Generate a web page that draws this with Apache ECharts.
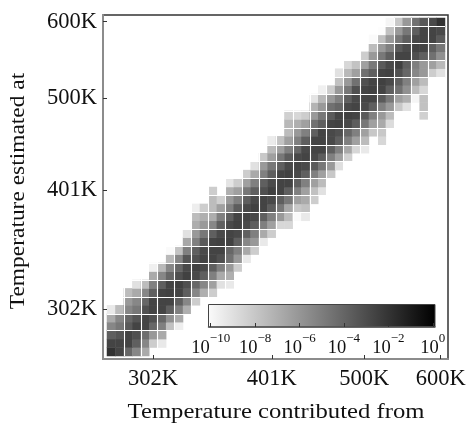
<!DOCTYPE html>
<html><head><meta charset="utf-8">
<style>html,body{margin:0;padding:0;background:#fff}#c{width:466px;height:423px}</style>
<script src="https://cdn.jsdelivr.net/npm/echarts@6/dist/echarts.min.js"></script>
</head><body><div id="c"></div>
<script>
const temperatureTicks = [302, 401, 500, 600];
const colorbarTicks = [-10, -8, -6, -4, -2, 0];
const xTitle = 'Temperature contributed from';
const yTitle = 'Temperature estimated at';
const binCount = 40;
const n = null;
// first occupied column of every row, bottom row first
const rowStart = [0,0,0,0,0,0,2,2,3,5,5,7,7,9,9,10,10,10,12,12,14,16,17,18,19,19,21,21,21,24,24,25,27,27,28,30,31,31,32,33];
// log10 of the estimate in every occupied cell
const rowLog10 = [
[-2.0,-2.7,-4.1,-5.4,-6.8],
[-2.7,-2.7,-2.7,-3.8,-5.4,-8.2,-9.3],
[-3.8,-3.4,-2.7,-3.2,-4.4,-6.1,-6.8],
[-5.4,-4.8,-3.6,-2.7,-2.7,-4.1,-5.1,-7.7,-9.5],
[-6.8,-5.4,-4.1,-3.4,-2.7,-3.2,-4.1,-5.8,-6.8],
[-9.3,-7.5,-5.4,-4.8,-3.2,-2.7,-2.7,-3.8,-5.1,-7.0],
[-6.1,-5.4,-4.1,-2.7,-2.7,-2.7,-3.8,-5.4,-8.2],
[-7.5,-6.8,-5.4,-3.8,-2.7,-2.6,-2.7,-3.8,-5.4,-7.0,-8.2],
[-9.0,-7.5,-5.1,-3.8,-2.7,-2.6,-3.2,-4.1,-5.4,-6.4,-9.0,-9.3],
[-6.8,-5.4,-4.1,-3.2,-2.6,-2.9,-3.8,-5.1,-6.8,-7.0],
[-9.6,-7.4,-5.4,-4.1,-2.9,-2.6,-2.9,-3.8,-5.1,-6.1,-8.2],
[-7.4,-5.4,-3.4,-3.2,-2.7,-2.7,-3.2,-4.5,-6.1,-9.3],
[-10.0,-7.8,-5.1,-3.8,-2.9,-2.7,-2.7,-4.1,-5.1,-6.7,-8.2],
[-6.7,-5.1,-3.6,-2.7,-2.6,-2.6,-3.8,-5.4,-6.1,-9.3],
[-9.0,-6.1,-4.8,-3.8,-2.9,-2.7,-2.9,-3.8,-5.1,-6.8,-8.2],
[-6.9,-6.1,-5.4,-3.8,-2.9,-2.6,-2.9,-3.8,-5.1,-6.4,-8.6,-8.6],
[-7.5,-7.0,-6.9,-5.1,-3.8,-2.7,-2.7,-2.9,-3.8,-5.1,-6.1,-7.5,-10.0,-9.3],
[-9.5,-8.2,-7.5,-6.4,-5.1,-3.7,-2.9,-2.6,-2.7,-3.7,-4.8,-6.7,-8.0,-7.7],
[-7.5,-8.3,-6.1,-5.1,-3.8,-2.9,-2.7,-2.9,-3.8,-4.8,-6.4,-6.8,-8.2],
[-8.2,n,-7.0,-6.4,-4.8,-3.8,-3.2,-2.6,-2.7,-3.8,-5.1,-6.4,-7.7,-9.0],
[-9.1,-8.2,-6.4,-5.1,-3.8,-3.0,-2.7,-2.7,-3.8,-5.1,-6.4,-7.5],
[-8.2,-6.8,-5.1,-3.8,-2.7,-2.6,-2.9,-3.8,-5.1,-6.4,-8.0],
[-9.0,-6.1,-4.8,-3.8,-2.9,-2.7,-2.9,-3.6,-4.8,-6.1,-8.9],
[-8.0,-6.4,-4.8,-3.7,-2.9,-2.7,-2.9,-3.7,-5.1,-6.4,-8.3],
[-7.5,-6.4,-5.1,-4.1,-2.9,-2.7,-2.7,-3.8,-5.1,-6.7,-8.6,-9.3],
[-9.4,-7.8,-6.4,-5.1,-3.8,-2.7,-2.7,-2.9,-3.8,-5.1,-6.4,-7.5,n,-8.6],
[-7.5,-6.1,-5.1,-3.8,-2.7,-2.9,-3.2,-4.1,-5.1,-6.4,-8.0,-8.0],
[-7.4,-7.0,-6.4,-4.5,-3.8,-2.7,-2.6,-2.9,-3.7,-4.8,-6.4,-6.8,-8.8],
[-8.3,-8.6,-8.2,-6.1,-4.8,-3.6,-2.7,-2.6,-2.7,-3.6,-5.1,-6.1,-7.5,n,n,n,-8.3],
[-7.2,-6.1,-4.5,-4.1,-2.9,-2.7,-2.9,-3.8,-5.1,-6.1,-8.0,-9.0,n,-7.7],
[-9.1,-7.4,-6.1,-5.1,-3.8,-2.9,-2.7,-2.7,-3.6,-4.8,-6.4,-7.0,-9.8,-7.7],
[-9.6,-8.2,-6.1,-4.8,-3.2,-2.7,-2.6,-2.7,-3.8,-4.5,-5.8,-7.5,-8.6],
[-7.7,-6.1,-4.5,-3.2,-2.7,-2.6,-2.9,-3.8,-5.1,-6.4,-7.5],
[-9.0,-7.4,-6.4,-4.5,-3.8,-2.7,-2.6,-3.2,-4.1,-5.4,-6.1,-8.2,-9.0],
[-8.6,-7.8,-6.4,-4.8,-3.6,-2.9,-2.6,-3.8,-5.1,-6.1,-6.4,-7.4],
[-8.2,-6.1,-4.8,-3.8,-2.7,-2.7,-3.2,-3.8,-4.5,-5.8],
[-7.5,-6.1,-5.1,-3.6,-3.0,-2.7,-2.7,-3.8,-4.8],
[-10.0,-7.7,-6.1,-4.8,-3.8,-2.9,-2.7,-2.7,-3.6],
[-10.1,-7.7,-6.1,-4.8,-3.8,-2.7,-2.7,-2.9],
[-9.8,-8.0,-6.1,-4.5,-3.5,-2.9,-2.0]
];

const bins = Array.from({length: binCount}, (_, i) => String(i));
const cells = [];
rowLog10.forEach((row, r) => row.forEach((v, i) => {
  if (v !== null) cells.push([rowStart[r] + i, r, v]);
}));

const FONT = '"Liberation Serif", serif';
const lnTicks = temperatureTicks.map(t => Math.log(t));
const tempAxis = (pos, extent) => ({
  type: 'value', gridIndex: 0, position: pos, min: extent[0], max: extent[1], z: 4,
  splitLine: {show: false},
  axisLine: {show: true, onZero: false, lineStyle: {color: '#8c8c8c', width: 2}},
  axisTick: {show: true, inside: true, length: 4, customValues: lnTicks, lineStyle: {color: '#333', width: 1}},
  axisLabel: {
    show: true, customValues: lnTicks, margin: pos === 'left' ? 6 : 9,
    fontFamily: FONT, fontSize: 22.5, color: '#111',
    formatter: v => Math.round(Math.exp(v)) + 'K', hideOverlap: false
  }
});
const binAxis = (pos, every) => ({
  type: 'category', gridIndex: 1, position: pos, data: bins, z: 3,
  axisLine: {show: false}, axisTick: {show: false}, axisLabel: {show: false},
  splitLine: {show: true, showMinLine: false, showMaxLine: false, interval: i => i % 2 === every, lineStyle: {color: '#fff', width: 1.1}}
});

const chart = echarts.init(document.getElementById('c'), null, {renderer: 'canvas'});
chart.setOption({
  animation: false,
  backgroundColor: '#fff',
  grid: [
    {left: 103, top: 15, width: 345, height: 344, z: 4, outerBoundsMode: 'none', show: true, borderColor: '#333', borderWidth: 1.5, backgroundColor: 'transparent'},
    {left: 107, top: 18, width: 338, height: 338, outerBoundsMode: 'none'},
    {left: 208.5, top: 304.5, width: 226.5, height: 22.5, z: 5, outerBoundsMode: 'none', show: true, borderColor: '#444', borderWidth: 1,
      backgroundColor: {type: 'linear', x: 0, y: 0, x2: 1, y2: 0, colorStops: [{offset: 0, color: '#fbfbfb'}, {offset: 1, color: '#000'}]}}
  ],
  xAxis: [
    tempAxis('bottom', [5.5911, 6.4145]),
    binAxis('bottom', 0),
    {type: 'value', gridIndex: 2, min: -10.1, max: 0.1, z: 6, position: 'bottom',
      splitLine: {show: false},
      axisLine: {show: true, onZero: false, lineStyle: {color: '#555', width: 1.5}},
      axisTick: {show: true, inside: true, length: 4, customValues: colorbarTicks, lineStyle: {color: '#333'}},
      axisLabel: {show: true, customValues: colorbarTicks, margin: 5, hideOverlap: false,
        formatter: v => '{n|10}{e|' + String(v).replace('-', '\u2212') + '}',
        rich: {
          n: {fontFamily: FONT, fontSize: 18.5, color: '#111', lineHeight: 26, verticalAlign: 'bottom'},
          e: {fontFamily: FONT, fontSize: 13, color: '#111', lineHeight: 14, verticalAlign: 'top'}
        }}
    }
  ],
  yAxis: [
    tempAxis('left', [5.5911, 6.413]),
    binAxis('left', 1),
    {type: 'value', gridIndex: 2, min: 0, max: 1, show: false}
  ],
  visualMap: {show: false, seriesIndex: 0, dimension: 2, min: -10.2, max: 0, inRange: {color: ['#ffffff', '#000000']}},
  series: [{
    type: 'heatmap', xAxisIndex: 1, yAxisIndex: 1, data: cells, z: 2,
    itemStyle: {borderWidth: 0}, emphasis: {disabled: true}, progressive: 0
  }],
  graphic: [
    {type: 'text', x: 276, y: 412, scaleX: 1.147, style: {text: xTitle, fontFamily: FONT, fontSize: 21.5, fill: '#111', align: 'center', verticalAlign: 'middle'}},
    {type: 'text', x: 18, y: 191, rotation: Math.PI / 2, scaleX: 1.09, style: {text: yTitle, fontFamily: FONT, fontSize: 21.5, fill: '#111', align: 'center', verticalAlign: 'middle'}}
  ]
});
</script></body></html>
